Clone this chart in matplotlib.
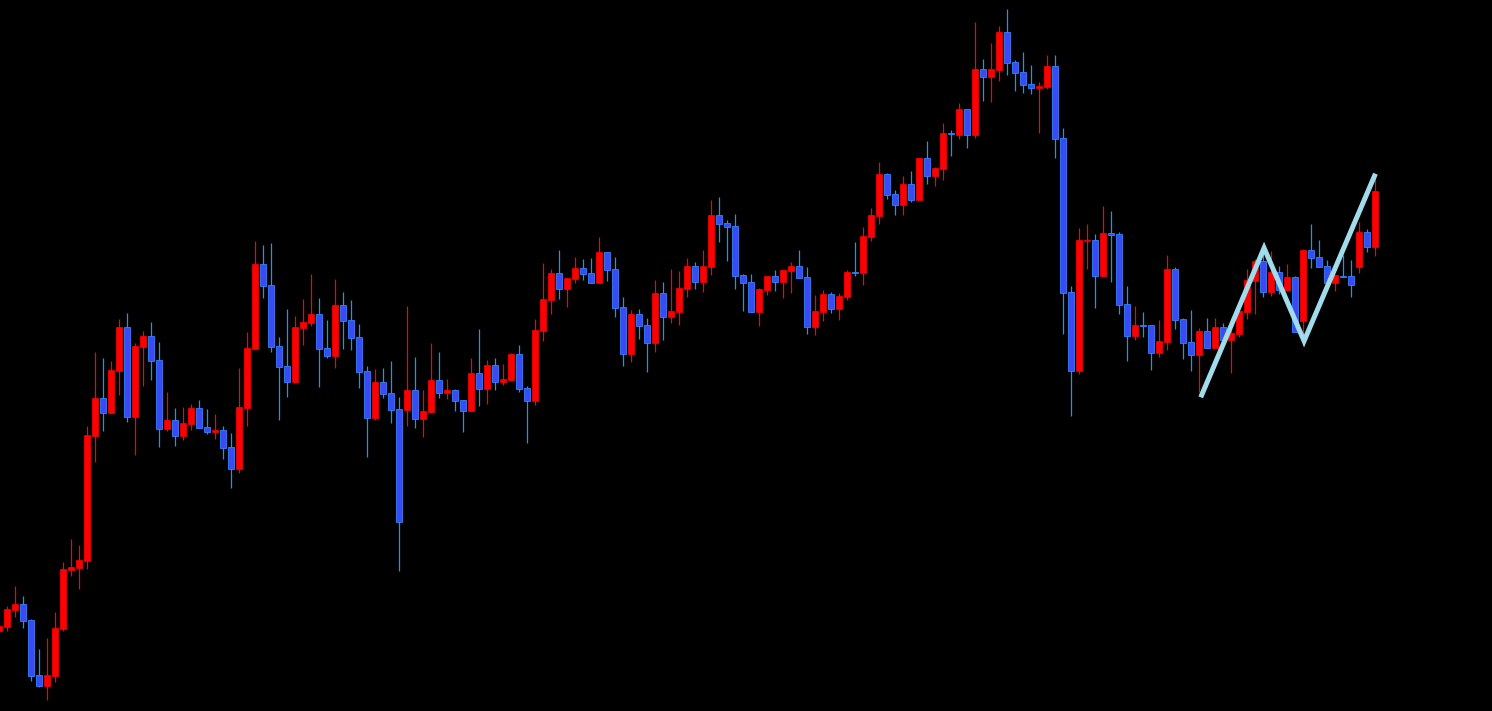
import numpy as np
import matplotlib
matplotlib.use("Agg")
import matplotlib.pyplot as plt

# OHLC values (chart points), first bar is the partly hidden one at the left edge
opens = [80, 84, 101, 107, 91, 36, 25, 35, 82, 141, 143, 150, 275, 313, 298, 340, 384, 294, 364, 375,
         351, 282, 291, 275, 287, 303, 284, 279, 281, 264, 242, 303, 362, 447, 426, 365, 345, 329, 383, 388,
         397, 363, 355, 406, 391, 374, 340, 293, 329, 318, 302, 301, 321, 292, 299, 331, 318, 321, 311, 300,
         338, 322, 346, 329, 331, 357, 323, 310, 380, 411, 438, 422, 432, 443, 438, 428, 459, 442, 404, 357,
         397, 386, 368, 418, 394, 399, 422, 445, 429, 444, 496, 488, 485, 436, 429, 399, 421, 435, 429, 440,
         445, 434, 384, 399, 417, 402, 414, 439, 438, 474, 495, 537, 517, 506, 527, 511, 553, 535, 542, 578,
         576, 602, 576, 642, 634, 641, 679, 649, 639, 627, 623, 624, 645, 573, 419, 340, 470, 471, 435, 478,
         477, 407, 375, 386, 386, 358, 369, 442, 392, 369, 356, 380, 363, 384, 371, 377, 399, 430, 450, 419,
         439, 421, 434, 390, 461, 454, 445, 428, 435, 435, 444, 479, 464]
highs = [85, 105, 125, 115, 92, 62, 73, 99, 149, 172, 166, 285, 359, 353, 350, 392, 398, 368, 380, 389,
         369, 319, 303, 304, 307, 311, 302, 297, 285, 278, 343, 379, 470, 466, 468, 374, 402, 395, 412, 437,
         413, 391, 432, 419, 411, 387, 345, 342, 343, 350, 314, 405, 354, 321, 368, 359, 332, 322, 311, 353,
         382, 351, 353, 347, 358, 366, 325, 392, 448, 442, 461, 433, 454, 452, 453, 474, 459, 454, 414, 401,
         402, 393, 431, 429, 442, 440, 453, 449, 461, 511, 514, 491, 497, 437, 437, 423, 435, 441, 441, 449,
         461, 444, 416, 421, 419, 418, 441, 469, 484, 503, 549, 538, 521, 535, 540, 553, 570, 544, 588, 581,
         608, 602, 689, 652, 668, 685, 702, 651, 659, 646, 629, 656, 656, 583, 425, 483, 487, 477, 505, 500,
         479, 425, 405, 399, 386, 391, 456, 444, 393, 401, 383, 393, 393, 388, 381, 402, 442, 452, 466, 460,
         445, 447, 435, 462, 487, 471, 451, 436, 456, 451, 489, 482, 537]
lows = [80, 80, 94, 83, 30, 24, 11, 29, 80, 135, 122, 142, 249, 280, 298, 316, 289, 256, 325, 331,
        264, 280, 265, 271, 281, 283, 277, 272, 252, 223, 238, 285, 362, 413, 359, 291, 314, 328, 366, 385,
        324, 353, 343, 362, 361, 323, 254, 291, 313, 288, 140, 285, 283, 274, 298, 313, 312, 300, 279, 300,
        305, 307, 321, 326, 330, 319, 268, 306, 370, 397, 412, 404, 428, 431, 428, 428, 430, 394, 345, 349,
        372, 339, 359, 371, 388, 386, 414, 422, 419, 436, 469, 450, 422, 400, 399, 385, 416, 420, 413, 418,
        433, 377, 376, 390, 398, 391, 411, 435, 426, 470, 487, 512, 496, 496, 509, 511, 527, 525, 531, 555,
        572, 563, 573, 610, 609, 630, 636, 620, 618, 617, 578, 622, 553, 377, 295, 337, 442, 403, 435, 429,
        397, 350, 371, 374, 341, 354, 361, 382, 352, 340, 319, 363, 363, 371, 338, 374, 392, 397, 414, 415,
        417, 420, 379, 365, 443, 444, 428, 420, 434, 414, 438, 459, 455]
closes = [85, 102, 107, 90, 35, 25, 36, 83, 142, 144, 151, 276, 313, 298, 341, 384, 294, 365, 375, 350,
          282, 291, 275, 288, 303, 283, 279, 281, 263, 242, 304, 363, 447, 425, 364, 344, 329, 384, 389, 397,
          362, 355, 406, 390, 373, 339, 293, 329, 317, 301, 189, 321, 292, 300, 331, 318, 321, 310, 300, 338,
          322, 346, 329, 332, 357, 322, 310, 381, 412, 438, 422, 433, 443, 437, 428, 459, 441, 403, 357, 397,
          385, 368, 418, 394, 400, 423, 445, 429, 445, 496, 487, 484, 435, 428, 399, 422, 435, 429, 441, 445,
          433, 384, 400, 417, 402, 415, 439, 438, 475, 496, 537, 516, 506, 527, 511, 553, 535, 543, 578, 577,
          602, 576, 642, 634, 642, 679, 648, 638, 626, 623, 625, 645, 572, 418, 340, 471, 471, 435, 478, 476,
          406, 375, 386, 385, 358, 370, 442, 391, 368, 356, 380, 363, 384, 371, 378, 400, 431, 450, 419, 439,
          421, 434, 379, 461, 453, 444, 428, 436, 434, 426, 479, 464, 520]

# zigzag pivots: bar position and price
zz_bar = [149.3, 157.1, 162.1, 170.9]
zz_price = [316, 463, 370, 535]

x = np.arange(len(opens)) - 1
o = np.array(opens)
h = np.array(highs)
l = np.array(lows)
c = np.array(closes)
up = c >= o

fig = plt.figure(figsize=(14.92, 7.11), dpi=100, facecolor="black")
ax = fig.add_axes([0, 0, 1, 1])
ax.set_facecolor("black")

# wicks
ax.vlines(x[up], l[up], h[up], color="#FF0000", linewidth=0.9, zorder=1)
ax.vlines(x[~up], l[~up], h[~up], color="#1E90FF", linewidth=0.9, zorder=1)

# bodies
body = np.maximum(np.abs(c - o), 1)
bottom = np.minimum(o, c)
ax.bar(x[up], body[up], bottom=bottom[up], width=0.75,
       color="#FF0000", edgecolor="#FF0000", linewidth=0.5, zorder=2)
ax.bar(x[~up], body[~up], bottom=bottom[~up], width=0.75,
       color="#3F48F2", edgecolor="#2A86FF", linewidth=0.6, zorder=2)

ax.plot(zz_bar, zz_price, color="#A0DCEC", linewidth=3.6, zorder=3,
        solid_joinstyle="miter")

ax.set_xlim(-0.9125, 185.59)
ax.set_ylim(0, 711)
ax.axis("off")

plt.savefig("out.png", dpi=100, facecolor="black")
